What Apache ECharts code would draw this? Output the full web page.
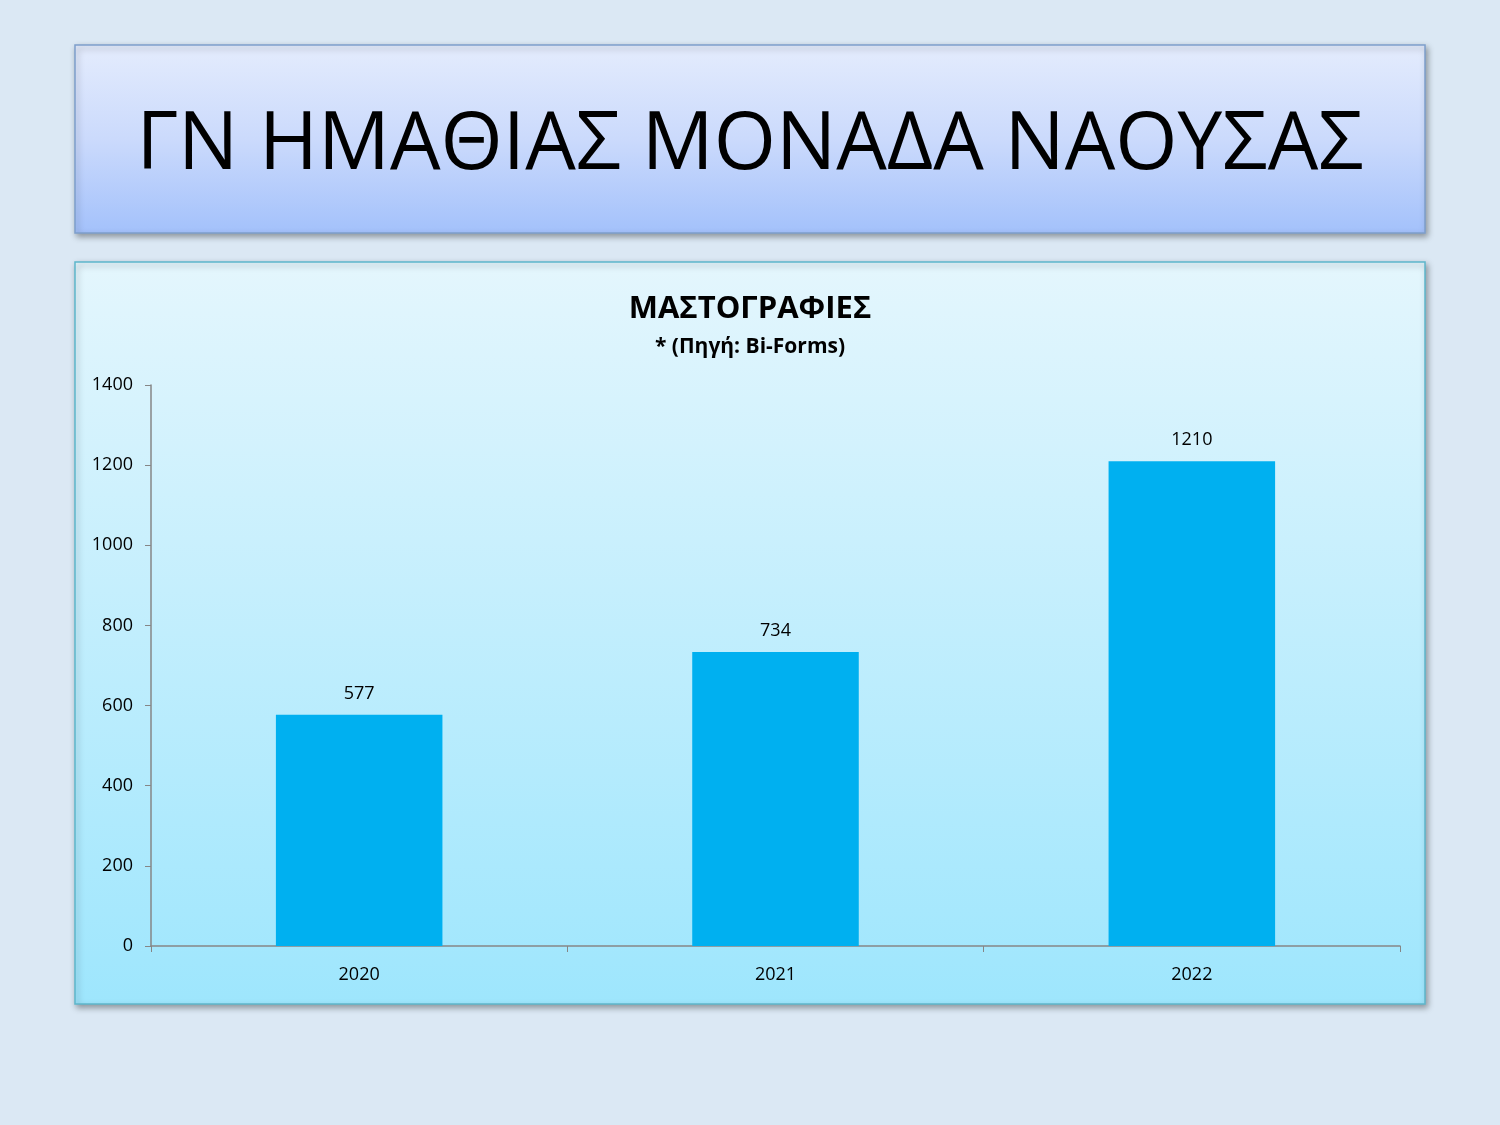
<!DOCTYPE html>
<html><head><meta charset="utf-8">
<script src="https://cdn.jsdelivr.net/npm/echarts@6/dist/echarts.min.js"></script>
<style>html,body{margin:0;padding:0;background:#dbe8f4;}#c{width:1500px;height:1125px;}</style>
</head><body><div id="c"></div>
<script>
const slideTitle = 'ΓΝ ΗΜΑΘΙΑΣ ΜΟΝΑΔΑ ΝΑΟΥΣΑΣ';
const chartTitle = 'ΜΑΣΤΟΓΡΑΦΙΕΣ';
const chartSubtitle = '* (Πηγή: Bi-Forms)';
const categories = ['2020', '2021', '2022'];
const values = [577, 734, 1210];
const yTicks = [0, 200, 400, 600, 800, 1000, 1200, 1400];

const chart = echarts.init(document.getElementById('c'));
const font = '"Open Sans", "Noto Sans", sans-serif';
chart.setOption({
  backgroundColor: '#dbe8f4',
  animation: false,
  graphic: [
    { type: 'rect', z: -10, shape: { x: 75, y: 45, width: 1350, height: 188 },
      style: { fill: new echarts.graphic.LinearGradient(0,0,0,1,[{offset:0,color:'#e4ecfd'},{offset:0.5,color:'#cbdafc'},{offset:1,color:'#a3c1fb'}]),
        stroke: '#7e9fcc', lineWidth: 1.5, shadowBlur: 6, shadowOffsetX: 2, shadowOffsetY: 3, shadowColor: 'rgba(0,0,0,0.35)' } },
    { type: 'text', z: 10, style: { text: slideTitle, x: 750, y: 146, align: 'center', verticalAlign: 'middle',
        font: '80px ' + font, fill: '#000' } },
    { type: 'rect', z: -10, shape: { x: 75, y: 262, width: 1350, height: 742 },
      style: { fill: new echarts.graphic.LinearGradient(0,0,0,1,[{offset:0,color:'#e4f6fd'},{offset:1,color:'#9ee6fd'}]),
        stroke: '#5db7cb', lineWidth: 1.5, shadowBlur: 6, shadowOffsetX: 2, shadowOffsetY: 3, shadowColor: 'rgba(0,0,0,0.35)' } }
  ],
  title: {
    text: chartTitle, subtext: chartSubtitle, left: 'center', top: 289, itemGap: 12,
    textStyle: { fontFamily: font, fontWeight: 'bold', fontSize: 31, color: '#000' },
    subtextStyle: { fontFamily: font, fontWeight: 'bold', fontSize: 21, color: '#000' }
  },
  grid: { left: 151, right: 100, top: 385, bottom: 179, containLabel: false },
  xAxis: {
    type: 'category', data: categories,
    axisLine: { lineStyle: { color: '#868686', width: 1.5 } },
    axisTick: { show: true, alignWithLabel: false, length: 6, lineStyle: { color: '#868686' } },
    axisLabel: { color: '#000', fontFamily: font, fontSize: 18, margin: 20 }
  },
  yAxis: {
    type: 'value', min: 0, max: 1400, interval: 200,
    axisLine: { show: true, lineStyle: { color: '#868686', width: 1.5 } },
    axisTick: { show: true, length: 6, lineStyle: { color: '#868686' } },
    splitLine: { show: false },
    axisLabel: { color: '#000', fontFamily: font, fontSize: 18, margin: 18,
      formatter: v => yTicks.includes(v) ? String(v) : '' }
  },
  series: [{
    type: 'bar', data: values, barWidth: '40%',
    itemStyle: { color: '#00b0f0' },
    label: { show: true, position: 'top', distance: 12, color: '#000', fontFamily: font, fontSize: 18 }
  }]
});
</script></body></html>
